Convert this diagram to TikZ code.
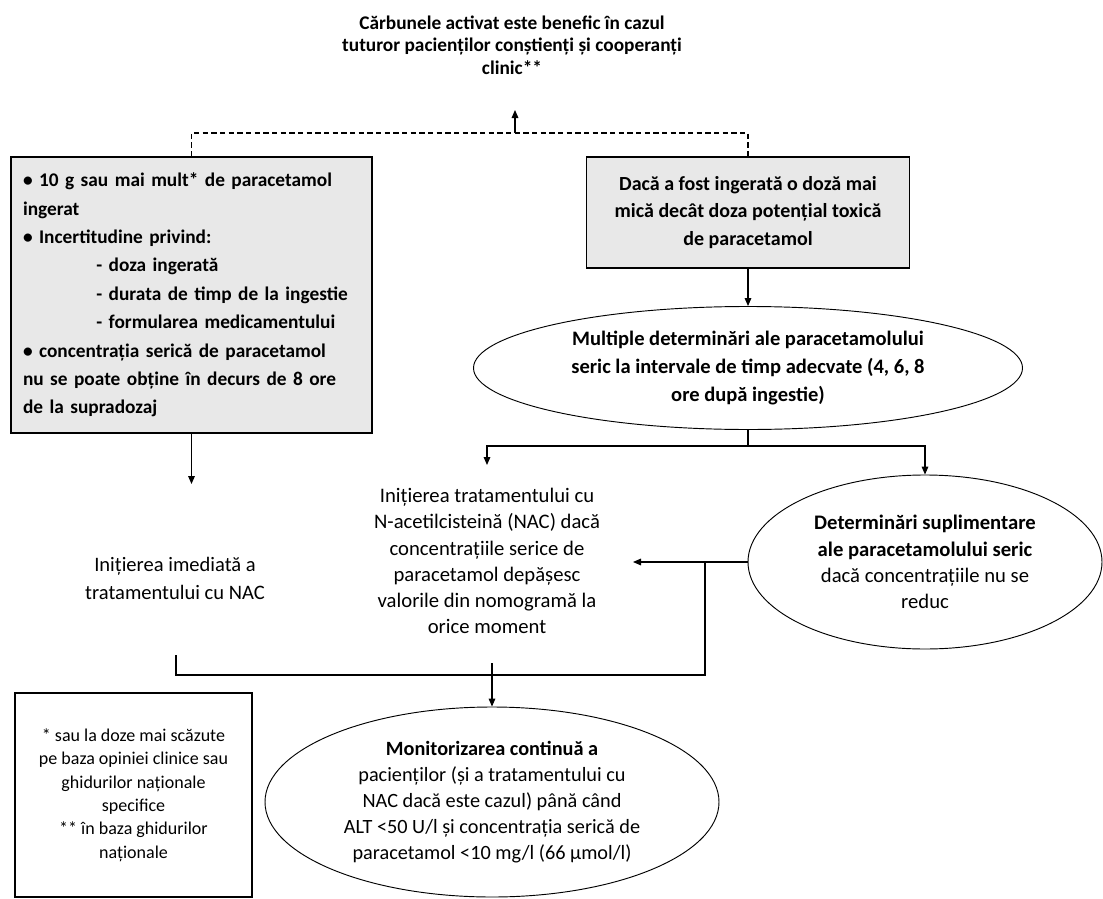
\documentclass[tikz,border=0pt]{standalone}
\usepackage{fontspec}
\setmainfont{Carlito}
\usetikzlibrary{positioning,shapes.geometric,arrows.meta}

\newcommand{\titlesize}{\fontsize{14.5pt}{16.9pt}\selectfont}
\newcommand{\lboxsize}{\fontsize{14.5pt}{21.3pt}\selectfont}
\newcommand{\boxsize}{\fontsize{15pt}{20.3pt}\selectfont}
\newcommand{\ovalsize}{\fontsize{15.4pt}{21pt}\selectfont}
\newcommand{\textsize}{\fontsize{15.5pt}{19.6pt}\selectfont}
\newcommand{\notesize}{\fontsize{13.5pt}{17.6pt}\selectfont}

\begin{document}
\begin{tikzpicture}[x = .75pt, y = -.75pt,
    >={Triangle[length=6pt,width=5pt]},
    every node/.style = {inner sep = 0pt},
    shaded/.style = {draw, fill = black!9, line width = .8pt},
    oval/.style = {ellipse, draw, line width = .7pt, align = center},
    link/.style = {line width = .8pt}]
    \useasboundingbox (0,0) rectangle (1103,899);

    % top note
    \node[align = center, font = \titlesize\bfseries] (carbon) at (512,45)
        {Cărbunele activat este benefic în cazul\\tuturor pacienților conștienți și cooperanți\\clinic**};

    % the two starting boxes
    \node[shaded, minimum width = 270.75pt, minimum height = 207pt, text width = 252.75pt,
        align = left, font = \lboxsize\bfseries] (lbox) at (191.5,295)
        {• 10 g sau mai mult* de paracetamol\\
        ingerat\\
        • Incertitudine privind:\\
        \hspace*{55pt}- doza ingerată\\
        \hspace*{55pt}- durata de timp de la ingestie\\
        \hspace*{55pt}- formularea medicamentului\\
        • concentrația serică de paracetamol\\
        nu se poate obține în decurs de 8 ore\\
        de la supradozaj};
    \node[shaded, minimum width = 242.25pt, minimum height = 83.25pt, align = center,
        font = \boxsize\bfseries] (rbox) at (748,212.5)
        {Dacă a fost ingerată o doză mai\\mică decât doza potențial toxică\\de paracetamol};

    \node[oval, minimum width = 411.75pt, minimum height = 92.25pt, font = \ovalsize\bfseries]
        (ell1) at (748,368)
        {Multiple determinări ale paracetamolului\\seric la intervale de timp adecvate (4, 6, 8\\ore după ingestie)};

    % middle row
    \node[align = center, font = \ovalsize] (lnac) at (175,578)
        {Inițierea imediată a\\tratamentului cu NAC};
    \node[align = center, font = \textsize] (mnac) at (487,561)
        {Inițierea tratamentului cu\\N-acetilcisteină (NAC) dacă\\concentrațiile serice de\\paracetamol depășesc\\valorile din nomogramă la\\orice moment};
    \node[oval, minimum width = 265.5pt, minimum height = 130.5pt, font = \textsize] (ell2) at (925,562)
        {\textbf{Determinări suplimentare}\\\textbf{ale paracetamolului seric}\\dacă concentrațiile nu se\\reduc};

    % bottom row
    \node[oval, minimum width = 340.5pt, minimum height = 142.5pt, font = \fontsize{15.2pt}{19.6pt}\selectfont]
        (ell3) at (492,802)
        {\textbf{Monitorizarea continuă a}\\pacienților (și a tratamentului cu\\NAC dacă este cazul) până când\\ALT <50 U/l și concentrația serică de\\paracetamol <10 mg/l (66 µmol/l)};
    \node[draw, line width = .8pt, minimum width = 177.75pt, minimum height = 153pt, align = center,
        font = \notesize] (notes) at (133.5,795)
        {* sau la doze mai scăzute\\pe baza opiniei clinice sau\\ghidurilor naționale\\specifice\\** în baza ghidurilor\\naționale};

    % connectors
    \coordinate (carbbase) at (515,133);
    \coordinate (carbtip) at (515,110);
    \draw[link, dash pattern = on 4pt off 2.5pt] (lbox.north) |- (carbbase) -| (rbox.north);
    \draw[link, ->] (carbbase) -- (carbtip);
    \draw[link, ->] (rbox) -- (ell1);
    \coordinate (split) at (748,446);
    \coordinate (midin) at (487,465);
    \draw[link] (ell1) -- (split);
    \draw[link, ->] (split) -| (midin);
    \draw[link, ->] (split) -| (ell2);
    \coordinate (lin) at (191.5,484);
    \draw[link, ->] (lbox) -- (lin);
    \coordinate (midright) at (633,562);
    \coordinate (loopup) at (705,562);
    \draw[link, ->] (ell2) -- (midright);
    \coordinate (leftstub) at (176,655);
    \coordinate (bottomleft) at (176,675);
    \draw[link] (leftstub) -- (bottomleft) -| (loopup);
    \coordinate (dropstart) at (492,663);
    \draw[link, ->] (dropstart) -- (ell3);
\end{tikzpicture}
\end{document}
